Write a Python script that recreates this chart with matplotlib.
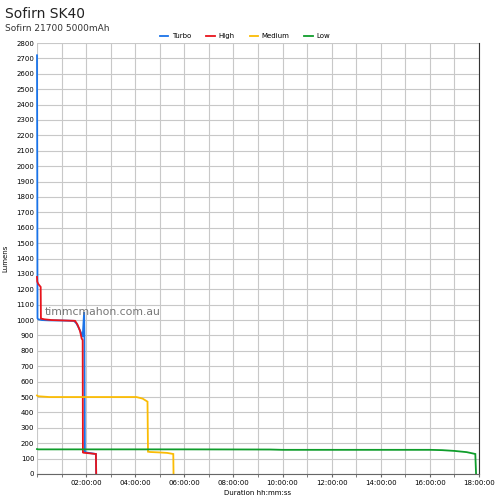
import matplotlib
matplotlib.use("Agg")
import matplotlib.pyplot as plt
from matplotlib.ticker import MultipleLocator, FixedLocator

# Data (time in hours, output in lumens)
turbo_t = [0.0, 0.01, 0.02, 0.05, 0.2, 0.5, 1.0, 1.5, 1.6, 1.7, 1.8, 1.86, 1.9, 1.92, 1.93, 1.95, 2.0, 2.2, 2.4, 2.41]
turbo_v = [2720, 2000, 1012, 1005, 1000, 998, 997, 995, 980, 950, 915, 890, 1000, 1050, 900, 145, 140, 135, 130, 0]

high_t = [0.0, 0.01, 0.05, 0.15, 0.16, 0.3, 0.6, 1.0, 1.55, 1.65, 1.75, 1.82, 1.86, 1.87, 1.9, 2.1, 2.4, 2.41]
high_v = [1280, 1250, 1235, 1215, 1010, 1005, 1000, 998, 995, 970, 930, 880, 870, 140, 138, 135, 130, 0]

medium_t = [0.0, 0.05, 0.5, 1.0, 2.0, 3.0, 4.05, 4.3, 4.5, 4.52, 4.6, 5.0, 5.3, 5.55, 5.56]
medium_v = [510, 505, 500, 500, 500, 500, 500, 490, 470, 145, 143, 140, 137, 130, 0]

low_t = [0.0, 0.05, 2.0, 6.0, 9.5, 10.0, 13.0, 16.0, 16.5, 17.0, 17.5, 17.85, 17.88]
low_v = [162, 160, 160, 160, 159, 157, 157, 157, 155, 150, 142, 130, 0]

series_names = ["Turbo", "High", "Medium", "Low"]
series_colors = ["#1a73e8", "#e8141c", "#fbbc04", "#0f9d2b"]

x_tick_hours = [2, 4, 6, 8, 10, 12, 14, 16, 18]
x_tick_labels = ["02:00:00", "04:00:00", "06:00:00", "08:00:00", "10:00:00",
                 "12:00:00", "14:00:00", "16:00:00", "18:00:00"]

fig = plt.figure(figsize=(5, 5), dpi=100)
ax = fig.add_axes([0.074, 0.052, 0.884, 0.862])

data = [(turbo_t, turbo_v), (high_t, high_v), (medium_t, medium_v), (low_t, low_v)]
for (t, v), name, c in zip(data, series_names, series_colors):
    ax.plot(t, v, color=c, lw=1.3, label=name, solid_joinstyle="miter", clip_on=False)

ax.set_xlim(0, 18)
ax.set_ylim(0, 2800)
ax.xaxis.set_major_locator(FixedLocator(x_tick_hours))
ax.set_xticklabels(x_tick_labels)
ax.xaxis.set_minor_locator(MultipleLocator(1))
ax.yaxis.set_major_locator(MultipleLocator(100))
ax.grid(True, which="both", color="#c8c8c8", lw=0.8)
ax.set_axisbelow(True)
ax.tick_params(axis="both", labelsize=5, length=2, color="#666666", pad=2)
ax.tick_params(axis="x", which="minor", length=2, color="#666666")
ax.tick_params(axis="y", length=0)
for s in ["top", "left"]:
    ax.spines[s].set_visible(False)
ax.spines["bottom"].set_color("#666666")
ax.spines["right"].set_color("#333333")
ax.spines["right"].set_linewidth(0.8)

ax.set_xlabel("Duration hh:mm:ss", fontsize=5, labelpad=3)
ax.set_ylabel("Lumens", fontsize=5, labelpad=6)

ax.text(0.018, 1050, "timmcmahon.com.au", fontsize=7.8, color="#777777",
        va="center", ha="left", transform=ax.get_yaxis_transform())

fig.text(0.01, 0.972, "Sofirn SK40", fontsize=10, ha="left", va="center", color="#222222")
fig.text(0.01, 0.943, "Sofirn 21700 5000mAh", fontsize=6.5, ha="left", va="center", color="#333333")

fig.legend(loc="center", bbox_to_anchor=(0.49, 0.928), ncol=4, fontsize=5,
           frameon=False, handlelength=1.2, handletextpad=0.5, columnspacing=2.2)

fig.savefig("out.png", dpi=100)
